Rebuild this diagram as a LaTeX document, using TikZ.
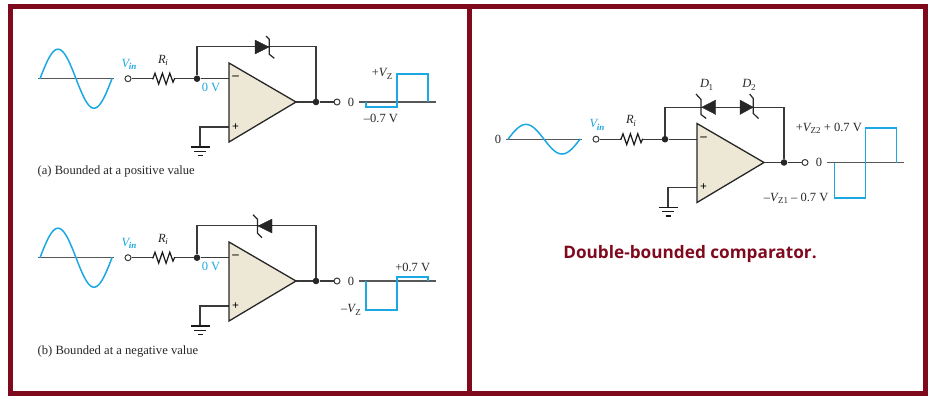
\documentclass[tikz,border=0pt]{standalone}
\usepackage{fontspec}
\setmainfont{Liberation Serif}
\newfontfamily\titlefont{Open Sans}
\definecolor{frame}{HTML}{7F0A1E}
\definecolor{sig}{HTML}{1CA8E3}
\definecolor{ink}{HTML}{3A3A3A}
\definecolor{opfill}{HTML}{EDE8D6}
\tikzset{
  wire/.style={draw=ink,line width=1.2pt},
  axisline/.style={draw=ink!85,line width=1.2pt},
  sigline/.style={draw=sig,line width=1.5pt,line join=miter},
  dot/.style={circle,fill=black!85,draw=none,minimum size=6.6pt,inner sep=0pt},
  term/.style={circle,fill=white,draw=ink,line width=1pt,minimum size=6pt,inner sep=0pt},
  oplabel/.style={inner sep=0pt,text=black!85,font=\fontsize{12.5}{14}\selectfont},
  bluelabel/.style={oplabel,text=sig},
  caption/.style={inner sep=0pt,anchor=west,text=black!85,font=\fontsize{12.6}{14}\selectfont},
  zener/.style={fill=black!85,draw=black!85,line width=.3pt,line join=miter},
  zbar/.style={draw=black!85,line width=1.2pt},
}
\newcommand{\lowtext}[1]{\raisebox{-2.2pt}{\fontsize{9}{9}\selectfont #1}}
\newcommand{\vinlabel}{\textit{V\kern-.5pt\lowtext{\bfseries in}}}
\newcommand{\zsub}[1]{\textit{V}\kern-1pt\lowtext{#1}}
% common circuit: #1 sine amplitude
\newcommand{\circuitbody}[1]{%
  \coordinate (axl) at (38,78.7); \coordinate (axr) at (114,78.7);
  \draw[axisline] (axl) -- (axr);
  \draw[sigline,line cap=round] plot[smooth,domain=0:360,samples=49] ({40+\x/5},{78.7-#1*sin(\x)});
  \node[term] (in) at (128,78.7) {};
  \coordinate (rl) at (152,78.7); \coordinate (rr) at (175,78.7);
  \node[dot] (j) at (197,78.7) {};
  \coordinate (minus) at (229,78.7); \coordinate (plus) at (229,127);
  \coordinate (ul) at (229,63); \coordinate (ll) at (229,142); \coordinate (apex) at (296,102);
  \node[dot] (oj) at (316,102) {};
  \node[term] (out) at (337,102) {};
  \coordinate (fbl) at (197,46.7); \coordinate (fbr) at (316,46.7);
  \coordinate (gc) at (200,127); \coordinate (g) at (200,147);
  \draw[wire] (in) -- (rl);
  \draw[draw=black!90,line width=1.2pt,line join=miter] (rl) -- ++(1,0) -- ++(2,-5.5) -- ++(3.7,11) -- ++(3.7,-11) -- ++(3.7,11) -- ++(3.7,-11) -- ++(3.2,9) -- ++(1.5,-3.5) -- (rr);
  \draw[wire] (rr) -- (j) -- (minus);
  \draw[wire] (j) -- (fbl) -- (fbr) -- (oj);
  \draw[wire] (plus) -- (gc) -- (g);
  \draw[wire] (apex) -- (oj) -- (out);
  \draw[fill=opfill,draw=black!85,line width=1.3pt,line join=miter] (ul) -- (apex) -- (ll) -- cycle;
  \node[inner sep=0pt,font=\bfseries\fontsize{13}{14}\selectfont] (mn) at (235.5,78.2) {–};
  \node[inner sep=0pt,font=\bfseries\fontsize{12}{14}\selectfont] (pl) at (235.5,127) {+};
  \draw[draw=black!90,line width=1.4pt] (190.5,147) -- (209.5,147) (194,151.2) -- (206,151.2) (197.5,155.3) -- (202.5,155.3);
  \coordinate (oxl) at (359,102); \coordinate (oxr) at (436,102);
  \draw[axisline] (oxl) -- (oxr);
  \node[oplabel] (zero) at (351,102) {0};
  \node[bluelabel] (vin) at (129,64.5) {\vinlabel};
  \node[oplabel] (ri) at (163,60.5) {\textit{R\kern-.5pt\lowtext{i}}};
}
\begin{document}
\begin{tikzpicture}[x=1pt,y=-1pt]
\useasboundingbox (0,0) rectangle (937,402);
% panel a
\begin{scope}[name prefix=a-]
  \circuitbody{29.5}
  \node[bluelabel] (zv) at (211,87.7) {0 V};
  \fill[zener] (255,40) -- (269,47) -- (255,54) -- cycle;
  \draw[zbar] (266,36) -- (269.3,39.3) -- (269.3,54.3) -- (274.3,58.3);
  \draw[sigline] (366,102) -- (366,107) -- (397,107) -- (397,74) -- (428,74) -- (428,102);
  \node[oplabel,anchor=east] (vz) at (392.5,74) {+\zsub{Z}};
  \node[oplabel] (neg) at (381,118) {–0.7 V};
\end{scope}
\node[caption] (capa) at (37.5,171.5) {(a) Bounded at a positive value};
% panel b
\begin{scope}[shift={(0,179)},name prefix=b-]
  \circuitbody{29.5}
  \node[bluelabel] (zv) at (211,87.7) {0 V};
  \fill[zener] (272,40) -- (258,47) -- (272,54) -- cycle;
  \draw[zbar] (253,35.7) -- (257.5,40.3) -- (257.5,54.3) -- (262,58.7);
  \draw[sigline] (366,102) -- (366,131) -- (397,131) -- (397,98) -- (428,98) -- (428,102);
  \node[oplabel] (pos) at (412.7,88.5) {+0.7 V};
  \node[oplabel] (vz) at (351,131) {–\zsub{Z}};
\end{scope}
\node[caption] (capb) at (37.5,351.5) {(b) Bounded at a negative value};
% right panel
\begin{scope}[shift={(468,60.5)},name prefix=c-]
  \circuitbody{14.8}
  \node[oplabel] (z0) at (30,78.7) {0};
  \fill[zener] (247.7,39.5) -- (233.7,46.7) -- (247.7,54) -- cycle;
  \draw[zbar] (228,33.5) -- (233,39) -- (233,54) -- (238.2,58);
  \fill[zener] (272,39.5) -- (285.3,46.7) -- (272,54) -- cycle;
  \draw[zbar] (281.7,33.5) -- (285.3,38) -- (285.3,53) -- (290.5,58);
  \node[oplabel] (d1) at (238.7,24.5) {\textit{D}\kern-.5pt\lowtext{1}};
  \node[oplabel] (d2) at (281,24.5) {\textit{D}\kern-.5pt\lowtext{2}};
  \draw[sigline] (366.7,102) -- (366.7,137.5) -- (397.7,137.5) -- (397.7,67.5) -- (428.3,67.5) -- (428.3,102);
  \node[oplabel,anchor=east] (vp) at (394,67.5) {+\zsub{Z2} + 0.7 V};
  \node[oplabel,anchor=east] (vm) at (360.5,137.5) {–\zsub{Z1} – 0.7 V};
\end{scope}
\node[inner sep=0pt,text=frame,font=\titlefont\bfseries\fontsize{17.2}{20}\selectfont] (title) at (690,254) {Double-bounded comparator.};
% frames
\draw[draw=frame,line width=5pt,line join=miter] (10.5,6.5) rectangle (925,393.5);
\draw[draw=frame,line width=5pt] (469,6.5) -- (469,393.5);
\end{tikzpicture}
\end{document}
